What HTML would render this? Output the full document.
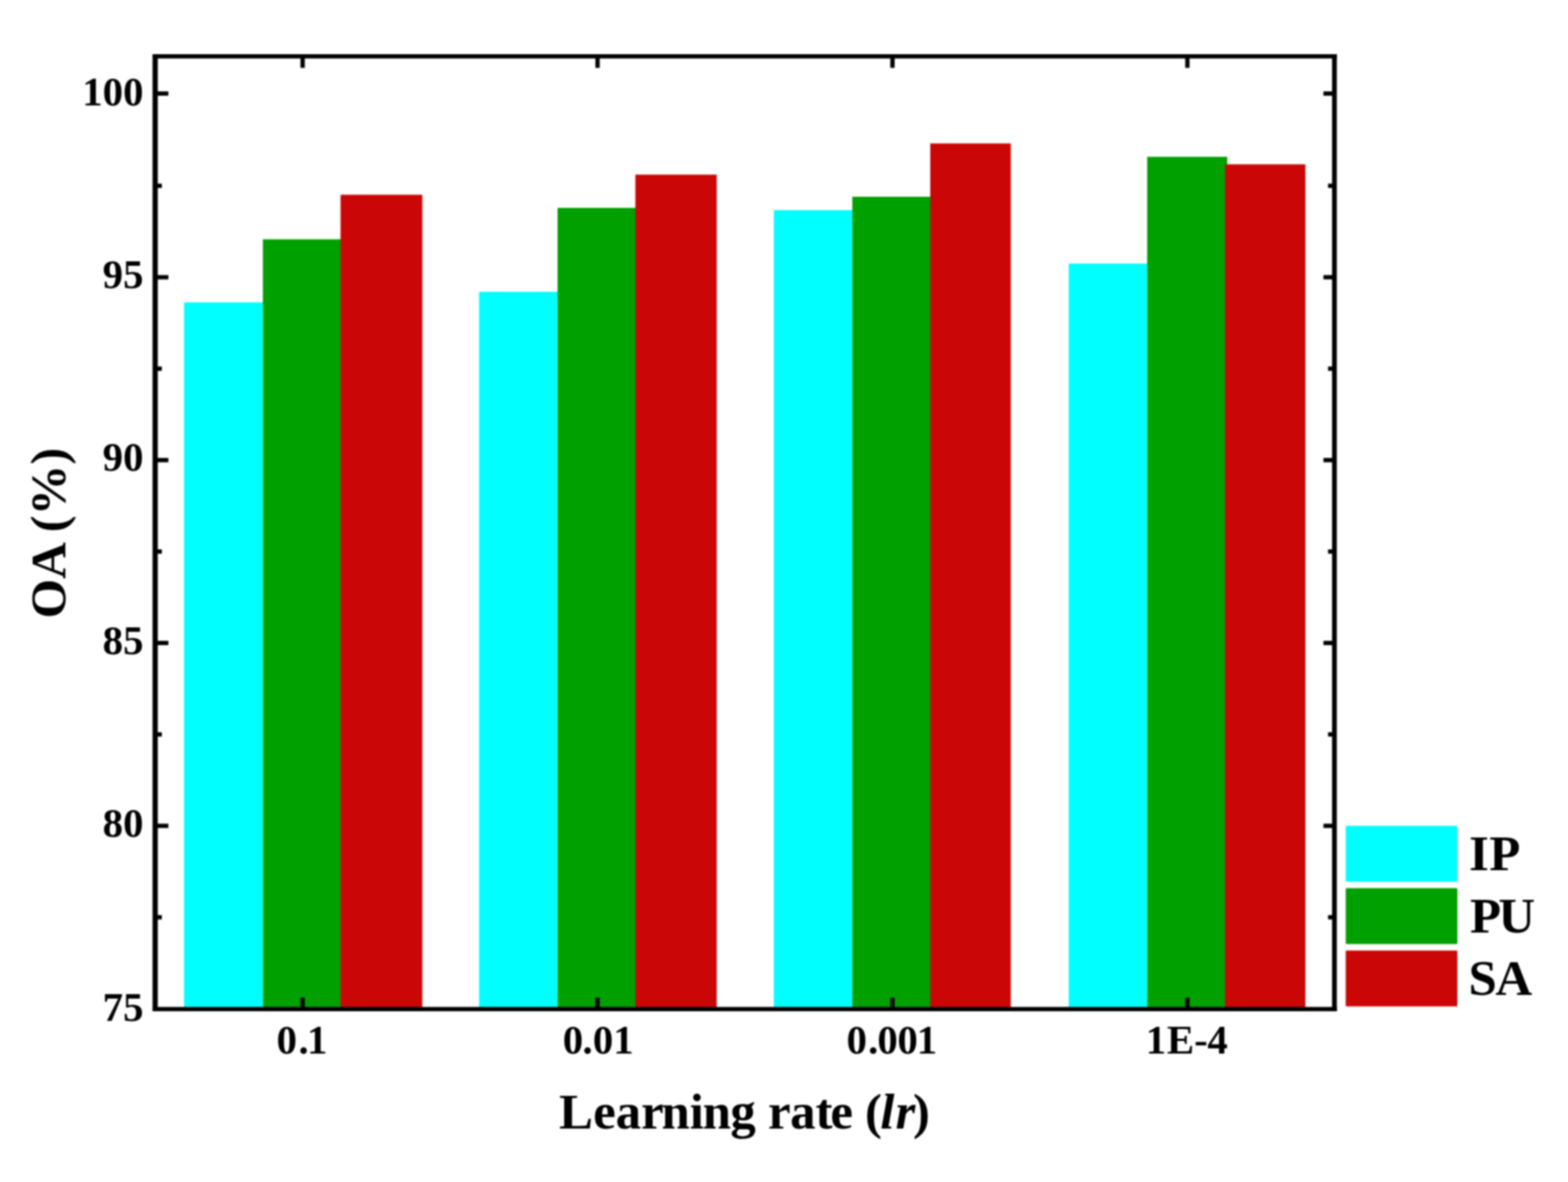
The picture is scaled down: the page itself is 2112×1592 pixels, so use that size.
<!DOCTYPE html>
<html lang="en">
<head>
<meta charset="utf-8">
<title>OA (%) vs Learning rate (lr)</title>
<style>
html,body{margin:0;padding:0;background:#fff;}
body{width:2112px;height:1592px;overflow:hidden;}
svg{display:block;filter:blur(0.8px);}
text{font-family:"Liberation Serif","DejaVu Serif",serif;font-weight:bold;fill:#000;}
.tk{font-size:55px;}
.ax{font-size:68.5px;}
.lg{font-size:68.5px;}
</style>
</head>
<body>
<svg width="2112" height="1592" viewBox="0 0 2112 1592">
<rect x="0" y="0" width="2112" height="1592" fill="#ffffff"/>

<g>
<rect x="247.90" y="407.20" width="109.20" height="952.00" fill="#00ffff"/>
<rect x="354.10" y="322.30" width="107.60" height="1036.90" fill="#00a000"/>
<rect x="458.70" y="262.30" width="110.10" height="1096.90" fill="#cb0606"/>
<rect x="645.30" y="393.00" width="108.70" height="966.20" fill="#00ffff"/>
<rect x="751.00" y="280.00" width="107.80" height="1079.20" fill="#00a000"/>
<rect x="855.80" y="235.20" width="109.60" height="1124.00" fill="#cb0606"/>
<rect x="1042.30" y="283.00" width="108.70" height="1076.20" fill="#00ffff"/>
<rect x="1148.00" y="265.00" width="108.00" height="1094.20" fill="#00a000"/>
<rect x="1253.00" y="193.20" width="108.50" height="1166.00" fill="#cb0606"/>
<rect x="1439.50" y="355.00" width="108.70" height="1004.20" fill="#00ffff"/>
<rect x="1545.20" y="211.20" width="107.80" height="1148.00" fill="#00a000"/>
<rect x="1650.00" y="221.30" width="108.30" height="1137.90" fill="#cb0606"/>
</g>
<g stroke="#000" stroke-width="5.8" fill="none">
<line x1="209.0" y1="126.00" x2="226.80" y2="126.00"/>
<line x1="1797.4" y1="126.00" x2="1782.60" y2="126.00"/>
<line x1="209.0" y1="250.25" x2="218.00" y2="250.25"/>
<line x1="1797.4" y1="250.25" x2="1788.80" y2="250.25"/>
<line x1="209.0" y1="373.40" x2="226.80" y2="373.40"/>
<line x1="1797.4" y1="373.40" x2="1782.60" y2="373.40"/>
<line x1="209.0" y1="496.55" x2="218.00" y2="496.55"/>
<line x1="1797.4" y1="496.55" x2="1788.80" y2="496.55"/>
<line x1="209.0" y1="619.70" x2="226.80" y2="619.70"/>
<line x1="1797.4" y1="619.70" x2="1782.60" y2="619.70"/>
<line x1="209.0" y1="742.85" x2="218.00" y2="742.85"/>
<line x1="1797.4" y1="742.85" x2="1788.80" y2="742.85"/>
<line x1="209.0" y1="866.00" x2="226.80" y2="866.00"/>
<line x1="1797.4" y1="866.00" x2="1782.60" y2="866.00"/>
<line x1="209.0" y1="989.15" x2="218.00" y2="989.15"/>
<line x1="1797.4" y1="989.15" x2="1788.80" y2="989.15"/>
<line x1="209.0" y1="1112.30" x2="226.80" y2="1112.30"/>
<line x1="1797.4" y1="1112.30" x2="1782.60" y2="1112.30"/>
<line x1="209.0" y1="1235.45" x2="218.00" y2="1235.45"/>
<line x1="1797.4" y1="1235.45" x2="1788.80" y2="1235.45"/>
<line x1="407.60" y1="75.8" x2="407.60" y2="91.40"/>
<line x1="407.60" y1="1359.2" x2="407.60" y2="1343.80"/>
<line x1="804.85" y1="75.8" x2="804.85" y2="91.40"/>
<line x1="804.85" y1="1359.2" x2="804.85" y2="1343.80"/>
<line x1="1202.10" y1="75.8" x2="1202.10" y2="91.40"/>
<line x1="1202.10" y1="1359.2" x2="1202.10" y2="1343.80"/>
<line x1="1599.35" y1="75.8" x2="1599.35" y2="91.40"/>
<line x1="1599.35" y1="1359.2" x2="1599.35" y2="1343.80"/>
</g>
<g stroke="#000" fill="none">
<line x1="209.0" y1="72.95" x2="209.0" y2="1362.05" stroke-width="7.0"/>
<line x1="1797.4" y1="72.95" x2="1797.4" y2="1362.05" stroke-width="6.4"/>
<line x1="205.80" y1="75.8" x2="1800.60" y2="75.8" stroke-width="5.7"/>
<line x1="205.80" y1="1359.2" x2="1800.60" y2="1359.2" stroke-width="5.7"/>
</g>
<g class="tk" text-anchor="end">
<text x="193.3" y="141.70">100</text>
<text x="193.3" y="388.10">95</text>
<text x="193.3" y="634.20">90</text>
<text x="193.3" y="880.60">85</text>
<text x="193.3" y="1127.00">80</text>
<text x="193.3" y="1374.80">75</text>
</g>
<g class="tk">
<text x="372.6 401.9 413.4" y="1418.5">0.1</text>
<text x="757.9 784.5 798.5 825.9" y="1418.5">0.01</text>
<text x="1140.3 1169.2 1181.7 1208.8 1234.8" y="1418.5">0.001</text>
<text x="1543.3 1571.8 1608.4 1626.3" y="1418.5">1E-4</text>
</g>
<text class="ax" y="1519.8"><tspan x="752.9 799.1 829.2 863.5 891.0 929.0 946.6 983.7 1017.6 1034.6 1064.3 1098.6 1118.5 1148.5 1165.1">Learning rate (</tspan><tspan font-style="italic" x="1185.8 1206.3">lr</tspan><tspan x="1229.8">)</tspan></text>
<text class="ax" text-anchor="middle" transform="translate(87.7 718) rotate(-90)">OA (%)</text>
<rect x="1812.6" y="1112.2" width="150.4" height="75.3" rx="1.2" fill="#00ffff"/>
<text class="lg" x="1978.8 2005.9" y="1171.5">IP</text>
<rect x="1812.6" y="1196.2" width="150.4" height="75.3" rx="1.2" fill="#00a000"/>
<text class="lg" x="1980.1 2018.3" y="1256.0">PU</text>
<rect x="1812.6" y="1280.2" width="150.4" height="75.3" rx="1.2" fill="#cb0606"/>
<text class="lg" x="1977.9 2014.3" y="1340.4">SA</text>
</svg>
</body>
</html>
